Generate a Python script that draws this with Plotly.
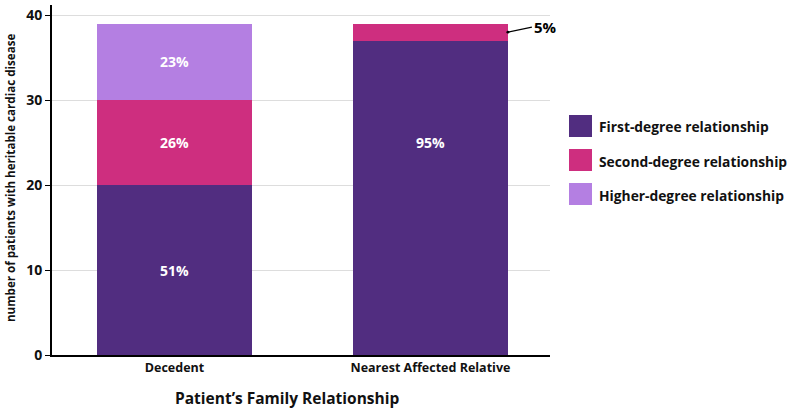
import plotly.graph_objects as go

categories = ["Decedent", "Nearest Affected Relative"]
series_names = ["First-degree relationship", "Second-degree relationship", "Higher-degree relationship"]
first_degree = [20, 37]
second_degree = [10, 2]
higher_degree = [9, 0]
pct_labels = {
    "First-degree relationship": ["51%", "95%"],
    "Second-degree relationship": ["26%", "5%"],
    "Higher-degree relationship": ["23%", ""],
}
label_y = {
    "First-degree relationship": [10, 25],
    "Second-degree relationship": [25, None],
    "Higher-degree relationship": [34.5, None],
}
y_ticks = [0, 10, 20, 30, 40]
colors = ["#512D80", "#CE2E7F", "#B47FE2"]

FONT = "Open Sans"
series = [first_degree, second_degree, higher_degree]

fig = go.Figure()
for name, vals, col in zip(series_names, series, colors):
    fig.add_trace(go.Bar(
        x=categories, y=vals, name=name, marker=dict(color=col, line=dict(width=0)),
        width=0.605, showlegend=False, hoverinfo="x+y+name",
    ))

annotations = []
for name in series_names:
    for cat, lab, yy in zip(categories, pct_labels[name], label_y[name]):
        if lab and yy is not None:
            annotations.append(dict(x=cat, y=yy, text=f"<b>{lab}</b>", showarrow=False,
                                    font=dict(family=FONT, size=14, color="white")))

# 5% callout on second-degree segment of Nearest Affected Relative
annotations.append(dict(
    x=1.3025, y=first_degree[1] + 1, xref="x", yref="y",
    text="<b>5%</b>", showarrow=True, arrowhead=6, arrowsize=0.6, arrowwidth=1.2,
    arrowcolor="black", ax=24, ay=-5, xanchor="left", yanchor="middle",
    font=dict(family=FONT, size=15, color="black"),
))

# Legend (manual)
legend_y = [126, 160, 194]
x0_px, x1_px = 52, 550
W, H = 792, 409
t, b = 5, 54
plot_h = H - t - b


def fx(px):
    return (px - x0_px) / (x1_px - x0_px)


def fy(py):
    return (H - b - py) / plot_h


shapes = []
for name, col, ypx in zip(series_names, colors, legend_y):
    shapes.append(dict(type="rect", xref="paper", yref="paper",
                       x0=fx(569), x1=fx(592), y0=fy(ypx + 11), y1=fy(ypx - 11),
                       fillcolor=col, line=dict(width=0)))
    annotations.append(dict(xref="paper", yref="paper", x=fx(597), y=fy(ypx + 1),
                            text=f"<b>{name}</b>", showarrow=False, xanchor="left",
                            yanchor="middle", font=dict(family=FONT, size=13.8, color="#111")))

# x-axis title
annotations.append(dict(xref="paper", yref="paper", x=fx(287),
                        y=fy(398), text="<b>Patient’s Family Relationship</b>",
                        showarrow=False, xanchor="center", yanchor="middle",
                        font=dict(family=FONT, size=15.5, color="#111")))

# y-axis title
annotations.append(dict(xref="paper", yref="paper", x=fx(10),
                        y=fy(178), text="<b>number of patients with heritable cardiac disease</b>",
                        showarrow=False, xanchor="center", yanchor="middle", textangle=-90,
                        font=dict(family=FONT, size=11.6, color="#111")))

fig.update_layout(
    barmode="stack",
    width=W, height=H,
    margin=dict(l=x0_px, r=W - x1_px, t=t, b=b, autoexpand=False),
    plot_bgcolor="white", paper_bgcolor="white",
    font=dict(family=FONT, color="#111"),
    annotations=annotations,
    shapes=shapes,
    showlegend=False,
)
fig.update_xaxes(
    range=[-0.4785, 1.467], showgrid=False, showline=True, linecolor="black", linewidth=2,
    ticks="", tickfont=dict(family=FONT, size=12.5, color="#111", weight="bold"),
    tickangle=0, fixedrange=True, automargin=False,
)
fig.update_yaxes(
    range=[0, 41.2], tickvals=y_ticks, showgrid=True, gridcolor="#dddddd", gridwidth=1,
    showline=True, linecolor="black", linewidth=2, ticks="outside", ticklen=5,
    tickcolor="black", tickwidth=1, automargin=False,
    tickfont=dict(family=FONT, size=14, color="#111", weight="bold"),
    zeroline=False,
)
fig.write_html(
    "out.html",
    config={"displayModeBar": False},
    post_script="document.body.style.margin='0';document.body.style.overflow='hidden';",
)
